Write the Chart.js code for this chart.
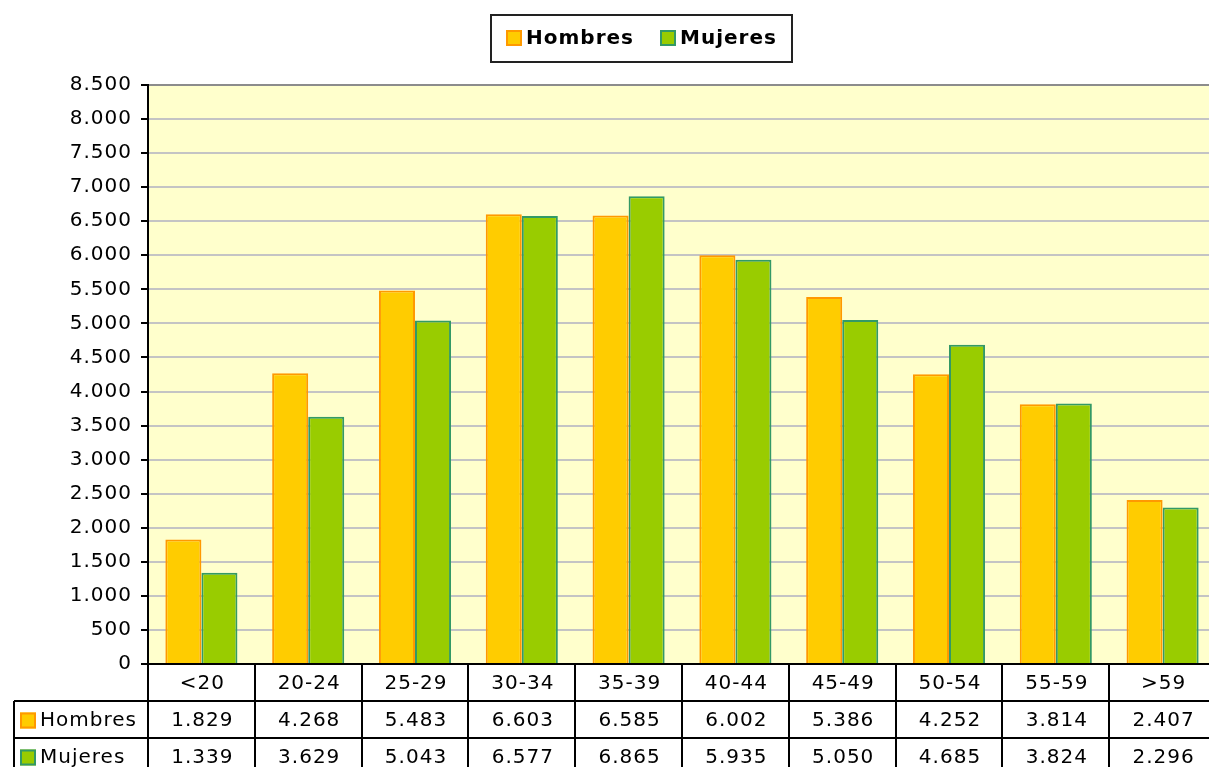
<!DOCTYPE html>
<html>
<head>
<meta charset="utf-8">
<script src="https://cdn.jsdelivr.net/npm/chart.js@4.4.1/dist/chart.umd.min.js"></script>
<style>
html, body { margin: 0; padding: 0; background: #fff; overflow: hidden; }
canvas { display: block; }
</style>
</head>
<body>
<canvas id="chart" width="1218" height="780"></canvas>
<script>
// Data
const categories = ["<20", "20-24", "25-29", "30-34", "35-39", "40-44", "45-49", "50-54", "55-59", ">59"];
const hombres = [1829, 4268, 5483, 6603, 6585, 6002, 5386, 4252, 3814, 2407];
const mujeres = [1339, 3629, 5043, 6577, 6865, 5935, 5050, 4685, 3824, 2296];
const seriesNames = ["Hombres", "Mujeres"];
const yMax = 8500;
const yStep = 500;

const FONT = '"DejaVu Sans", Verdana, sans-serif';
const FONT_SIZE = 20;
const SPACING = "1px";
const ROW_H = 37;
const TABLE_LEFT = 14;

// 1829 -> "1.829"
function fmt(v) {
  return String(v).replace(/\B(?=(\d{3})+(?!\d))/g, ".");
}

const colors = [
  { fill: "#FFCC00", border: "#FF9900" },
  { fill: "#99CC00", border: "#339966" }
];

// plot background + letter spacing for all the text
const plotBg = {
  id: "plotBg",
  beforeDraw(chart) {
    const { ctx, chartArea: a } = chart;
    ctx.letterSpacing = SPACING;
    ctx.save();
    ctx.fillStyle = "#FFFFCC";
    ctx.fillRect(a.left, a.top, a.right - a.left, a.bottom - a.top);
    ctx.restore();
  }
};

function square(ctx, x, y, c) {
  ctx.fillStyle = c.fill;
  ctx.fillRect(x, y, 16, 16);
  ctx.strokeStyle = c.border;
  ctx.lineWidth = 2;
  ctx.strokeRect(x + 1, y + 1, 14, 14);
}

// data table under the x axis + boxed legend on top
const tableAndLegend = {
  id: "tableAndLegend",
  afterDraw(chart) {
    const { ctx, chartArea: a } = chart;
    const n = categories.length;
    const colW = (a.right - a.left) / n;
    const y0 = a.bottom;
    const y1 = y0 + ROW_H, y2 = y1 + ROW_H, y3 = y2 + ROW_H;
    ctx.save();
    ctx.letterSpacing = SPACING;
    ctx.strokeStyle = "#000";
    ctx.lineWidth = 2;
    ctx.beginPath();
    ctx.moveTo(a.left - 1, y0); ctx.lineTo(a.right, y0);
    ctx.moveTo(TABLE_LEFT, y1); ctx.lineTo(a.right, y1);
    ctx.moveTo(TABLE_LEFT, y2); ctx.lineTo(a.right, y2);
    ctx.moveTo(TABLE_LEFT, y3); ctx.lineTo(a.right, y3);
    ctx.moveTo(TABLE_LEFT, y1); ctx.lineTo(TABLE_LEFT, y3);
    for (let i = 0; i <= n; i++) {
      const x = Math.round(a.left + i * colW);
      ctx.moveTo(x, y0); ctx.lineTo(x, y3);
    }
    ctx.stroke();

    ctx.fillStyle = "#000";
    ctx.font = FONT_SIZE + "px " + FONT;
    ctx.textAlign = "center";
    ctx.textBaseline = "middle";
    const xs = chart.scales.x;
    chart.data.datasets.forEach((ds, r) => {
      const cy = y1 + ROW_H * r + ROW_H / 2 + 1;
      ds.data.forEach((v, i) => {
        ctx.fillText(fmt(v), xs.getPixelForValue(i) + 1, cy);
      });
    });
    categories.forEach((c, i) => {
      ctx.fillText(c, xs.getPixelForValue(i) + 1, y0 + ROW_H / 2 + 1);
    });

    // row headers
    ctx.textAlign = "left";
    chart.data.datasets.forEach((ds, r) => {
      const cy = y1 + ROW_H * r + ROW_H / 2;
      square(ctx, TABLE_LEFT + 6, cy - 7, colors[r]);
      ctx.fillStyle = "#000";
      ctx.fillText(ds.label, TABLE_LEFT + 26, cy + 1);
    });

    // legend box
    ctx.fillStyle = "#fff";
    ctx.fillRect(491, 15, 301, 47);
    ctx.strokeStyle = "#222";
    ctx.lineWidth = 2;
    ctx.strokeRect(491, 15, 301, 47);
    ctx.font = "bold " + FONT_SIZE + "px " + FONT;
    const itemX = [506, 660];
    chart.data.datasets.forEach((ds, r) => {
      square(ctx, itemX[r], 30, colors[r]);
      ctx.fillStyle = "#000";
      ctx.fillText(ds.label, itemX[r] + 20, 39);
    });
    ctx.restore();
  }
};

new Chart(document.getElementById("chart"), {
  type: "bar",
  data: {
    labels: categories,
    datasets: [
      {
        label: seriesNames[0],
        data: hombres,
        backgroundColor: colors[0].fill,
        borderColor: colors[0].border,
        borderWidth: 2
      },
      {
        label: seriesNames[1],
        data: mujeres,
        backgroundColor: colors[1].fill,
        borderColor: colors[1].border,
        borderWidth: 2
      }
    ]
  },
  options: {
    responsive: false,
    animation: false,
    devicePixelRatio: 1,
    layout: { padding: { top: 85, bottom: 116, left: 0, right: 2 } },
    datasets: { bar: { categoryPercentage: 0.675, barPercentage: 1 } },
    plugins: {
      legend: { display: false },
      tooltip: { enabled: false }
    },
    scales: {
      x: { display: false },
      y: {
        min: 0,
        max: yMax,
        afterFit(scale) { scale.width = 148; },
        ticks: {
          stepSize: yStep,
          color: "#000",
          padding: 9,
          font: { family: FONT, size: FONT_SIZE },
          callback: v => fmt(v)
        },
        grid: {
          color: ctx => (ctx.tick && ctx.tick.value === yMax ? "#8c8c8c" : "#c4c4c4"),
          lineWidth: 2,
          tickColor: "#000",
          tickLength: 7,
          tickWidth: 2
        },
        border: { color: "#000", width: 2 }
      }
    }
  },
  plugins: [plotBg, tableAndLegend]
});
</script>
</body>
</html>
